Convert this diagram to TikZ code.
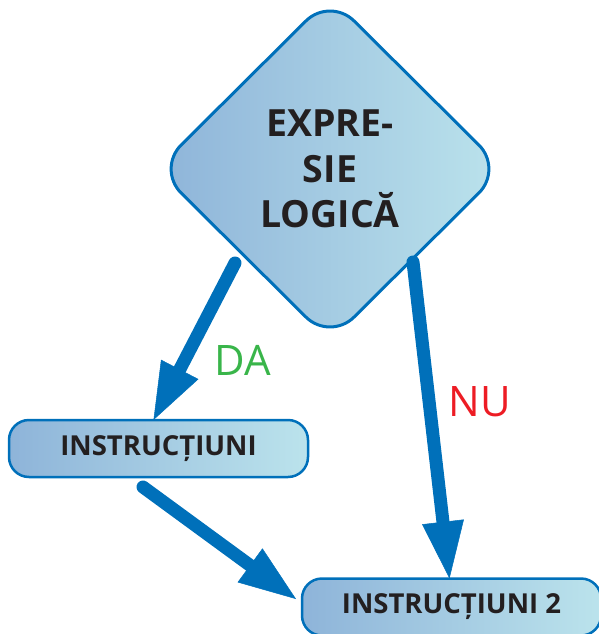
\documentclass[tikz,border=0pt]{standalone}
\usepackage{fontspec}
\setmainfont{Open Sans}
\usetikzlibrary{shapes.geometric,arrows.meta}

\definecolor{flowblue}{RGB}{0,112,186}
\definecolor{shadeleft}{RGB}{142,180,217}
\definecolor{shaderight}{RGB}{187,227,236}
\definecolor{inkdark}{RGB}{35,31,32}
\definecolor{dagreen}{RGB}{57,181,74}
\definecolor{nured}{RGB}{237,28,36}

\tikzset{
  decision/.style={shape=diamond, draw=flowblue, line width=3pt, rounded corners=34pt,
    left color=shadeleft, right color=shaderight, minimum width=346pt, minimum height=344pt,
    inner sep=0pt, outer sep=0pt, align=center, text=inkdark,
    font=\bfseries\fontsize{37.5}{45.5}\selectfont},
  instrbox/.style={rectangle, draw=flowblue, line width=2.5pt, rounded corners=20pt,
    left color=shadeleft, right color=shaderight, minimum width=299pt, minimum height=57pt,
    inner sep=0pt, outer sep=0pt, text=inkdark,
    font=\bfseries\fontsize{27.5}{30}\selectfont},
  flow/.style={draw=flowblue, line width=13pt, line cap=round,
    -{Triangle[length=57pt,width=42pt,line width=0.5pt]}},
  answer/.style={font=\fontsize{42}{42}\selectfont}
}

\begin{document}
\begin{tikzpicture}[x=1pt,y=-1pt]
  \useasboundingbox (0,0) rectangle (598,634);

  % Nodes
  \node[decision] (expr) at (330,169) {EXPRE-\\SIE\\LOGICĂ};
  \node[instrbox] (instr) at (158.5,448.5) {INSTRUCȚIUNI};
  \node[instrbox] (instr2) at (451.5,607) {INSTRUCȚIUNI 2};

  % Branch labels
  \node[answer, text=dagreen] (da) at (243,360) {DA};
  \node[answer, text=nured] (nu) at (480,402) {NU};

  % Arrow starts
  \coordinate (da start) at (235,263);
  \coordinate (nu start) at (413,262);
  \coordinate (back start) at (143,487);

  % Arrows
  \draw[flow] (da start) -- ([xshift=-5pt]instr.north);
  \draw[flow] (nu start) -- ([xshift=-2pt]instr2.north);
  \draw[flow] (back start) -- ([xshift=-6pt,yshift=8pt]instr2.west);
\end{tikzpicture}
\end{document}
